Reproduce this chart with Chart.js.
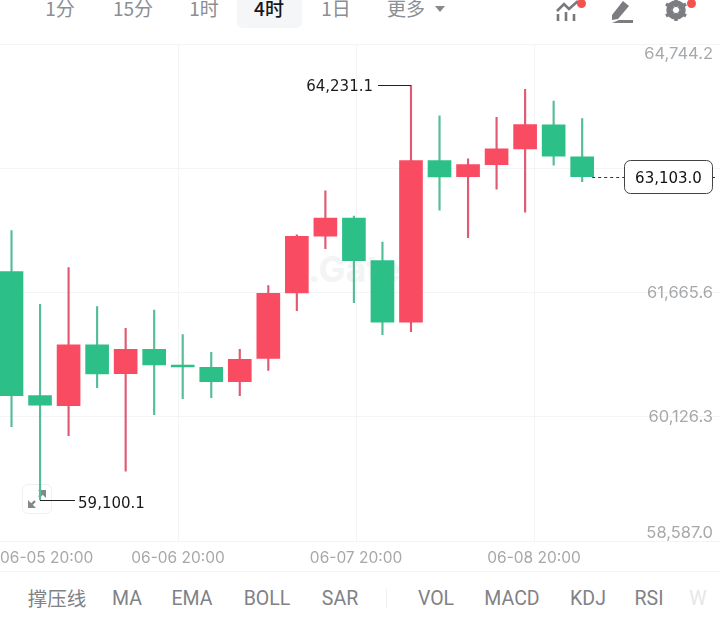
<!DOCTYPE html>
<html>
<head>
<meta charset="utf-8">
<script src="https://cdn.jsdelivr.net/npm/chart.js@4"></script>
<style>
html, body { margin: 0; padding: 0; background: #fff; }
#page { position: relative; width: 720px; height: 622px; overflow: hidden; font-family: Roboto, "Noto Sans CJK SC", sans-serif; }
#myChart { position: absolute; left: 0; top: 0; z-index: 2; }
.t { position: absolute; transform: translateX(-50%); white-space: nowrap; line-height: 1; }
.top { top: -2px; font-size: 19px; color: #8b8e92; font-family: "Noto Sans CJK SC", sans-serif; }
.bot { top: 589px; font-size: 19.5px; color: #7f8286; }
#active { position: absolute; left: 237px; top: 0; width: 65px; height: 28px; background: #f5f6f8; border-radius: 0 0 6px 6px; }
#line { position: absolute; left: 0; top: 571px; width: 720px; height: 1px; background: #f3f4f5; }
#sep { position: absolute; left: 386px; top: 589px; width: 1px; height: 19px; background: #eef0f1; }
#mark { position: absolute; left: 308px; top: 247px; font: bold 36px Inter, sans-serif; color: #f2f4f5; }
#expand { position: absolute; left: 22px; top: 484px; width: 30px; height: 30px; box-sizing: border-box; border: 1px solid #eff0f1; border-radius: 6px; }
svg { position: absolute; }
</style>
</head>
<body>
<div id="page">
    <div id="active"></div>
    <div class="t top" style="left:60px">1分</div>
    <div class="t top" style="left:133px">15分</div>
    <div class="t top" style="left:204px">1时</div>
    <div class="t top" style="left:269px;color:#15181c;font-weight:500">4时</div>
    <div class="t top" style="left:336px">1日</div>
    <div class="t top" style="left:406px">更多</div>
    <svg style="left:434px;top:5px" width="12" height="8"><path d="M1 1H11L6 7Z" fill="#85888c"/></svg>

    <svg style="left:555px;top:0" width="32" height="24">
        <path d="M2 11L9 4L14 9L23 1" fill="none" stroke="#77797c" stroke-width="2.6"/>
        <path d="M3 14V21M11 12V21M19 14V21" fill="none" stroke="#77797c" stroke-width="2.6"/>
        <circle cx="26.5" cy="3.5" r="4.5" fill="#f4524d"/>
    </svg>
    <svg style="left:608px;top:0" width="28" height="24">
        <path d="M4 15L15 1L21 6L10 19L4 20Z" fill="#7b7d80"/>
        <path d="M11 20H25V23H4Z" fill="#7b7d80"/>
    </svg>
    <svg style="left:663px;top:0" width="34" height="24">
        <circle cx="13" cy="10" r="7" fill="none" stroke="#7b7d80" stroke-width="5.5"/>
        <path d="M13 -1V21M3 4L23 16M3 16L23 4" stroke="#7b7d80" stroke-width="3.4"/>
        <circle cx="13" cy="10" r="3" fill="#fff"/>
        <circle cx="28.5" cy="3.5" r="4.5" fill="#f4524d"/>
    </svg>

    <div id="mark">.Gate</div>
    <div id="expand"></div>
    <svg style="left:22px;top:484px" width="30" height="30">
        <path d="M8 22L13 17M22 8L17 13" stroke="#85888b" stroke-width="2.4"/>
        <path d="M6 16V24H14ZM24 14V6H16Z" fill="#85888b"/>
    </svg>

    <canvas id="myChart" width="720" height="622"></canvas>

    <div id="line"></div>
    <div id="sep"></div>
    <div class="t bot" style="left:57px;font-family:'Noto Sans CJK SC',sans-serif;top:588px">撑压线</div>
    <div class="t bot" style="left:127px">MA</div>
    <div class="t bot" style="left:192px">EMA</div>
    <div class="t bot" style="left:267px">BOLL</div>
    <div class="t bot" style="left:340px">SAR</div>
    <div class="t bot" style="left:436px">VOL</div>
    <div class="t bot" style="left:512px">MACD</div>
    <div class="t bot" style="left:588px">KDJ</div>
    <div class="t bot" style="left:649px">RSI</div>
    <div class="t bot" style="left:698px;color:#e6e7e8">W</div>
</div>

<script>
// 4h candles
const opens  = [61926, 60390, 60266, 61018, 60662, 60964, 60770, 60742, 60563, 60850, 61662, 62364, 62590, 62062, 61299, 63300, 63102, 63250, 63445, 63742, 63346];
const highs  = [62433, 61522, 61975, 61492, 61225, 61451, 61145, 60927, 60964, 61752, 62380, 62925, 62615, 62293, 64231.1, 63854, 63321, 63837, 64184, 64036, 63820];
const lows   = [60006, 59100.1, 59895, 60489, 59454, 60155, 60353, 60365, 60390, 60702, 61442, 62210, 61541, 61145, 61182, 62686, 62346, 62946, 62661, 63243, 63040];
const closes = [60390, 60271, 61018, 60659, 60964, 60770, 60745, 60563, 60841, 61658, 62364, 62590, 62062, 61299, 63300, 63098, 63250, 63445, 63746, 63354, 63103.0];

// Axis ticks
const priceTicks = [58587.0, 60126.3, 61665.6, 63204.9, 64744.2];
const timeTicks = [-0.4035, 5.836, 12.075, 18.314, 24.55];
const timeLabels = ['06-05 20:00', '06-06 20:00', '06-07 20:00', '06-08 20:00', ''];

const UP = '#f94b62';
const DOWN = '#2cc088';
const UP_WICK = '#e05a74';
const DOWN_WICK = '#55bd97';
const AXIS_FONT = '16.5px Inter, sans-serif';
const TAG_FONT = '15px "DejaVu Sans", sans-serif';

function fmt(v) {
    return v.toLocaleString('en-US', { minimumFractionDigits: 1, maximumFractionDigits: 1 });
}

function candleColor(ctx) {
    const i = ctx.dataIndex;
    return closes[i] >= opens[i] ? UP : DOWN;
}

function wickColor(ctx) {
    const i = ctx.dataIndex;
    return closes[i] >= opens[i] ? UP_WICK : DOWN_WICK;
}

function noPadding(scale) {
    scale.paddingLeft = 0;
    scale.paddingRight = 0;
    scale.paddingTop = 0;
    scale.paddingBottom = 0;
}

// Price labels, high/low callouts and the last price tag
const overlayPlugin = {
    id: 'overlay',
    afterDatasetsDraw(chart) {
        const c = chart.ctx;
        const xs = chart.scales.x;
        const ys = chart.scales.y;
        c.save();
        c.font = AXIS_FONT;
        c.textBaseline = 'middle';

        c.fillStyle = '#a6a9ac';
        c.textAlign = 'right';
        priceTicks.forEach((p) => {
            const y = Math.min(533, Math.max(54, ys.getPixelForValue(p)));
            c.fillText(fmt(p), 713, y);
        });

        const high = Math.max(...highs);
        const low = Math.min(...lows);
        const hx = xs.getPixelForValue(highs.indexOf(high));
        const hy = Math.round(ys.getPixelForValue(high)) + 0.5;
        const lx = xs.getPixelForValue(lows.indexOf(low));
        const ly = Math.round(ys.getPixelForValue(low)) + 0.5;

        c.strokeStyle = '#222';
        c.lineWidth = 1;
        c.beginPath();
        c.moveTo(hx, hy);
        c.lineTo(hx - 33, hy);
        c.moveTo(lx, ly);
        c.lineTo(lx + 35, ly);
        c.stroke();

        c.font = TAG_FONT;
        c.fillStyle = '#1a1a1a';
        c.textAlign = 'right';
        c.fillText(fmt(high), hx - 38, hy + 2);
        c.textAlign = 'left';
        c.fillText(fmt(low), lx + 38, ly + 4);

        const last = closes[closes.length - 1];
        const py = Math.round(ys.getPixelForValue(last)) + 0.5;
        c.strokeStyle = '#333';
        c.setLineDash([3, 3]);
        c.beginPath();
        c.moveTo(xs.getPixelForValue(closes.length - 1) + 10, py);
        c.lineTo(624, py);
        c.moveTo(712, py);
        c.lineTo(717, py);
        c.stroke();
        c.setLineDash([]);

        c.beginPath();
        c.roundRect(624.5, 160.5, 88, 33, 6);
        c.fillStyle = '#fff';
        c.fill();
        c.strokeStyle = '#444';
        c.stroke();
        c.fillStyle = '#111';
        c.textAlign = 'center';
        c.fillText(fmt(last), 668.5, py + 2);
        c.restore();
    },
};

const chart = new Chart(document.getElementById('myChart').getContext('2d'), {
    type: 'bar',
    data: {
        datasets: [
            {
                label: 'wick',
                data: highs.map((h, i) => ({ x: i, y: [lows[i], h] })),
                backgroundColor: wickColor,
                barThickness: 1.5,
                order: 2,
            },
            {
                label: 'body',
                data: opens.map((o, i) => ({ x: i, y: [o, closes[i]] })),
                backgroundColor: candleColor,
                barThickness: 23,
                minBarLength: 2,
                order: 1,
            },
        ],
    },
    plugins: [overlayPlugin],
    options: {
        responsive: false,
        animation: false,
        events: [],
        grouped: false,
        layout: { autoPadding: false, padding: { top: 44, left: 0, right: 0, bottom: 0 } },
        plugins: { legend: { display: false }, tooltip: { enabled: false } },
        scales: {
            x: {
                type: 'linear',
                offset: false,
                min: timeTicks[0],
                max: 24.83,
                border: { display: false },
                afterBuildTicks(scale) {
                    scale.ticks = timeTicks.map((v) => ({ value: v }));
                },
                afterFit(scale) {
                    scale.height = 80.7;
                    noPadding(scale);
                },
                grid: {
                    offset: false,
                    drawTicks: false,
                    lineWidth: 1,
                    color: (ctx) => (ctx.index > 0 && ctx.index < 4 ? '#f3f4f5' : 'rgba(0,0,0,0)'),
                },
                ticks: {
                    autoSkip: false,
                    maxRotation: 0,
                    align: 'inner',
                    padding: 8,
                    color: '#a6a9ac',
                    font: { family: 'Inter, sans-serif', size: 15.5 },
                    callback: (v, i) => timeLabels[i],
                },
            },
            y: {
                min: priceTicks[0],
                max: priceTicks[priceTicks.length - 1],
                border: { display: false },
                afterBuildTicks(scale) {
                    scale.ticks = priceTicks.map((v) => ({ value: v }));
                },
                afterFit(scale) {
                    scale.width = 0;
                    noPadding(scale);
                },
                grid: { drawTicks: false, color: '#f3f4f5' },
                ticks: { display: false },
            },
        },
    },
});
</script>
</body>
</html>
